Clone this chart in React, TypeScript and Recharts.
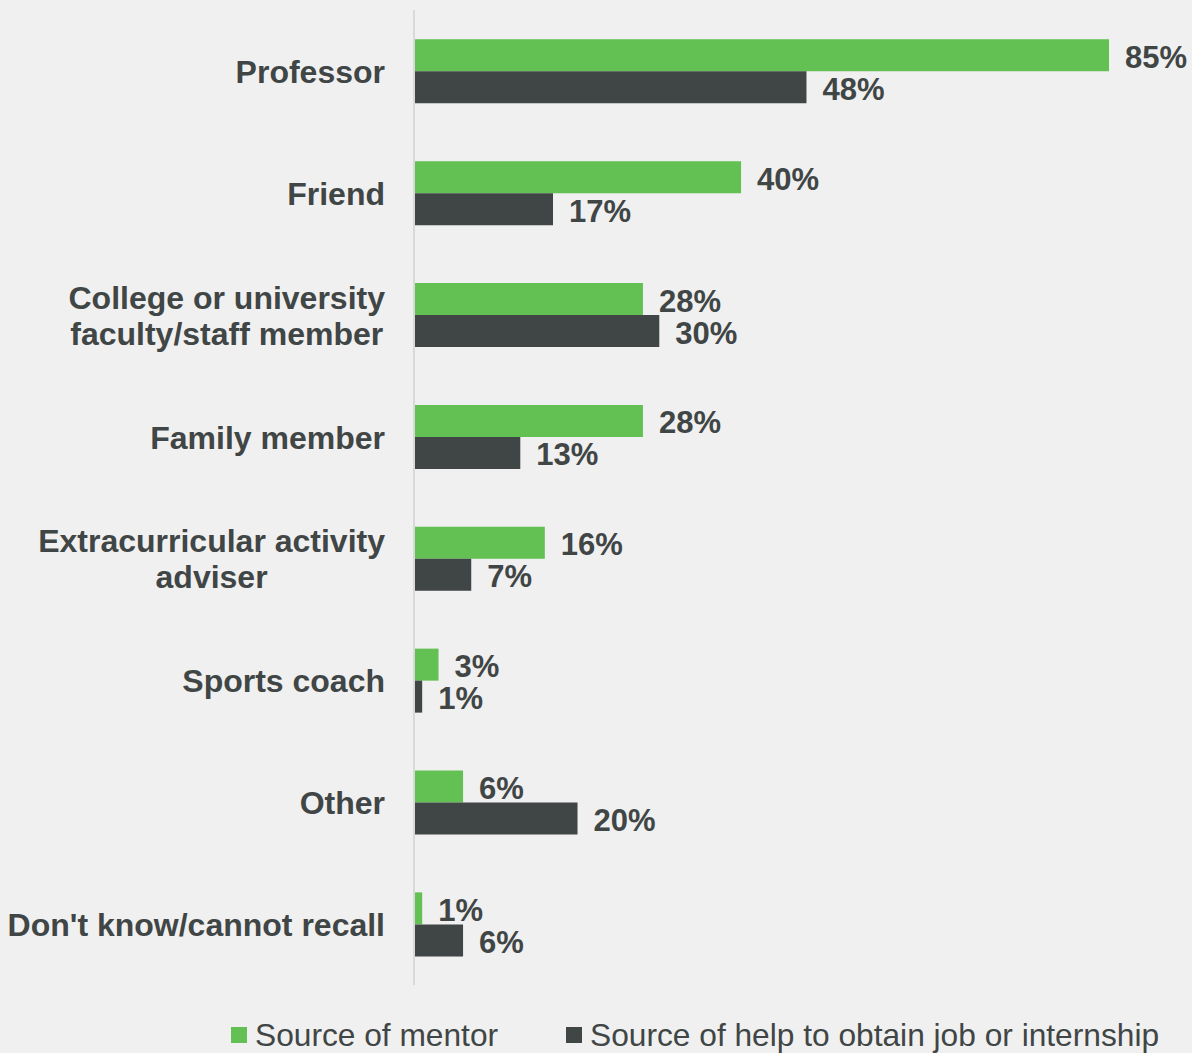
import { BarChart, Bar, XAxis, YAxis, Legend, LabelList } from 'recharts'

const categories = [
  'Professor',
  'Friend',
  'College or university\nfaculty/staff member',
  'Family member',
  'Extracurricular activity\nadviser',
  'Sports coach',
  'Other',
  "Don't know/cannot recall",
]
const mentorValues = [85, 40, 28, 28, 16, 3, 6, 1]
const jobHelpValues = [48, 17, 30, 13, 7, 1, 20, 6]
const seriesNames = ['Source of mentor', 'Source of help to obtain job or internship']

const GREEN = '#62c152'
const DARK = '#404545'
const TEXT = '#404545'
const FONT = '"Liberation Sans", Arial, sans-serif'
const TICK_FONT_SIZE = 32

const data = categories.map((name, i) => ({
  name,
  mentor: mentorValues[i],
  job: jobHelpValues[i],
}))

let measureCtx: CanvasRenderingContext2D | null = null
function textWidth(s: string) {
  if (!measureCtx) measureCtx = document.createElement('canvas').getContext('2d')
  if (!measureCtx) return s.length * TICK_FONT_SIZE * 0.55
  measureCtx.font = `bold ${TICK_FONT_SIZE}px ${FONT}`
  return measureCtx.measureText(s).width
}

/** Category label: block right-aligned, lines centred on each other. */
function CategoryTick({ x, y, payload }: any) {
  const lines = String(payload.value).split('\n')
  const lineHeight = 36
  const startDy = -((lines.length - 1) * lineHeight) / 2 + 1
  const maxW = Math.max(...lines.map(textWidth))
  const cx = lines.length > 1 ? x - maxW / 2 : x
  return (
    <text
      x={cx}
      y={y}
      textAnchor={lines.length > 1 ? 'middle' : 'end'}
      fill={TEXT}
      fontSize={TICK_FONT_SIZE}
      fontWeight="bold"
      fontFamily={FONT}
      dominantBaseline="central"
    >
      {lines.map((line, i) => (
        <tspan key={i} x={cx} dy={i === 0 ? startDy : lineHeight}>
          {line}
        </tspan>
      ))}
    </text>
  )
}

function LegendContent() {
  const items = [
    { label: seriesNames[0], color: GREEN },
    { label: seriesNames[1], color: DARK },
  ]
  return (
    <div
      style={{
        height: 68,
        display: 'flex',
        alignItems: 'flex-end',
        paddingLeft: 231,
        gap: 68,
        fontFamily: FONT,
        fontSize: 31.7,
        color: TEXT,
        lineHeight: '36px',
        boxSizing: 'border-box',
      }}
    >
      {items.map((it) => (
        <div key={it.label} style={{ display: 'flex', alignItems: 'center', whiteSpace: 'nowrap' }}>
          <span style={{ width: 16, height: 16, background: it.color, marginRight: 8, display: 'inline-block' }} />
          <span>{it.label}</span>
        </div>
      ))}
    </div>
  )
}

function ValueLabel(props: any) {
  const { x, y, width, height, value } = props
  return (
    <text
      x={x + width + 16}
      y={y + height / 2 + 2}
      fill={TEXT}
      fontSize={31}
      fontWeight="bold"
      fontFamily={FONT}
      dominantBaseline="central"
    >
      {`${value}%`}
    </text>
  )
}

export default function App() {
  return (
    <div style={{ position: 'absolute', left: 0, top: 0, width: 1192, height: 1053, background: '#f0f0f0' }}>
      <BarChart
        width={1192}
        height={1053}
        data={data}
        layout="vertical"
        margin={{ top: 10, right: 83, left: 0, bottom: 0 }}
        barCategoryGap="24%"
        barGap={0}
      >
        <XAxis type="number" domain={[0, 85]} hide />
        <YAxis
          type="category"
          dataKey="name"
          width={414}
          tick={<CategoryTick />}
          tickLine={false}
          tickSize={0}
          tickMargin={29}
          axisLine={{ stroke: '#d9d9d9', strokeWidth: 2 }}
          interval={0}
        />
        <Legend verticalAlign="bottom" content={<LegendContent />} />
        <Bar dataKey="mentor" name={seriesNames[0]} fill={GREEN} isAnimationActive={false}>
          <LabelList dataKey="mentor" content={<ValueLabel />} />
        </Bar>
        <Bar dataKey="job" name={seriesNames[1]} fill={DARK} isAnimationActive={false}>
          <LabelList dataKey="job" content={<ValueLabel />} />
        </Bar>
      </BarChart>
    </div>
  )
}
